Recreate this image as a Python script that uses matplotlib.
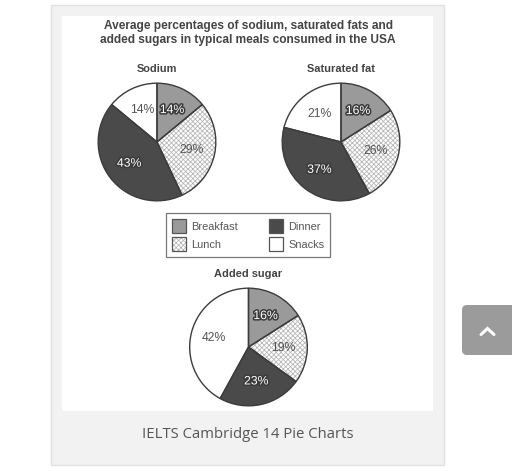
import matplotlib
matplotlib.use("Agg")
import matplotlib.pyplot as plt
import matplotlib.patheffects as pe
from matplotlib.patches import Rectangle, FancyBboxPatch, Patch
from matplotlib.lines import Line2D

# ---- data ----
meals = ["Breakfast", "Lunch", "Dinner", "Snacks"]
sodium = [14, 29, 43, 14]
saturated_fat = [16, 26, 37, 21]
added_sugar = [16, 19, 23, 42]
chart_titles = ["Sodium", "Saturated fat", "Added sugar"]
main_title = "Average percentages of sodium, saturated fats and\nadded sugars in typical meals consumed in the USA"
caption = "IELTS Cambridge 14 Pie Charts"

# ---- style ----
face_colors = ["#9a9a9a", "white", "#4a4a4a", "white"]
hatches = [None, "xxxxxxx", None, None]
edge_col = "#3c3c3c"
hatch_col = "#b4b4b4"
label_white = [True, False, True, False]

W, H = 512, 475
plt.rcParams["font.family"] = ["Liberation Sans", "DejaVu Sans"]
plt.rcParams["hatch.linewidth"] = 0.55

fig = plt.figure(figsize=(W / 100, H / 100), dpi=100)
fig.patch.set_facecolor("white")

# background (page) axes in pixel coordinates
bg = fig.add_axes([0, 0, 1, 1])
bg.set_xlim(0, W)
bg.set_ylim(H, 0)
bg.axis("off")
bg.add_patch(Rectangle((51, 5), 393, 460, facecolor="#f2f2f2", edgecolor="#e2e2e2", lw=1))
bg.add_patch(Rectangle((62, 16), 371, 395, facecolor="white", edgecolor="none"))
bg.add_patch(FancyBboxPatch((466, 309), 60, 42, boxstyle="round,pad=4,rounding_size=5",
                            facecolor="#9b9b9b", edgecolor="none"))
bg.add_line(Line2D([481, 487.5, 494], [334.5, 328.5, 334.5], color="white", lw=2.2,
                   solid_capstyle="round", solid_joinstyle="miter"))
bg.text(248, 20, main_title, ha="center", va="top", fontsize=8.55, fontweight="bold",
        color="#444444", linespacing=1.22)
bg.text(248, 434, caption, ha="center", va="center", fontsize=10.7, color="#555555",
        family=["Open Sans", "DejaVu Sans"])


def draw_pie(values, title, cx, cy, r):
    ax = fig.add_axes([(cx - r) / W, 1 - (cy + r) / H, 2 * r / W, 2 * r / H])
    base, _, autotexts = ax.pie(values, colors=face_colors, startangle=90, counterclock=False,
                                autopct=lambda p: f"{p:.0f}%", pctdistance=0.6,
                                wedgeprops=dict(lw=0, edgecolor=hatch_col))
    for w, h in zip(base, hatches):
        if h:
            w.set_hatch(h)
    ax.pie(values, colors=["none"] * len(values), startangle=90, counterclock=False,
           wedgeprops=dict(lw=1.0, edgecolor=edge_col))
    for t, white in zip(autotexts, label_white):
        t.set_fontsize(8.8)
        if white:
            t.set_color("white")
            t.set_path_effects([pe.withStroke(linewidth=2.2, foreground="#3a3a3a")])
        else:
            t.set_color("#555555")
        t.set_zorder(10)
    ax.set_xlim(-1.02, 1.02)
    ax.set_ylim(-1.02, 1.02)
    bg.text(cx, cy - r - 13, title, ha="center", va="center", fontsize=7.9,
            fontweight="bold", color="#444444")
    return base


draw_pie(sodium, chart_titles[0], 157, 142, 60)
draw_pie(saturated_fat, chart_titles[1], 341, 142, 60)
draw_pie(added_sugar, chart_titles[2], 248.5, 347, 60)

# legend
handles = []
for fc, h in zip(face_colors, hatches):
    if h:
        handles.append((Patch(facecolor=fc, edgecolor=hatch_col, hatch=h, lw=0),
                        Patch(facecolor="none", edgecolor="#555555", lw=0.9)))
    else:
        handles.append(Patch(facecolor=fc, edgecolor="#555555", lw=0.9))
leg = fig.legend(handles, meals, ncol=2, loc="center",
                 bbox_to_anchor=(248 / W, 1 - 235 / H), fontsize=7.9,
                 frameon=True, fancybox=False, edgecolor="#555555",
                 handlelength=1.3, handleheight=1.6, handletextpad=0.45,
                 columnspacing=2.85, labelspacing=0.35, borderpad=0.55,
                 borderaxespad=0)
leg.get_frame().set_linewidth(0.9)
for t in leg.get_texts():
    t.set_color("#555555")

fig.savefig("out.png", dpi=100, facecolor="white")
